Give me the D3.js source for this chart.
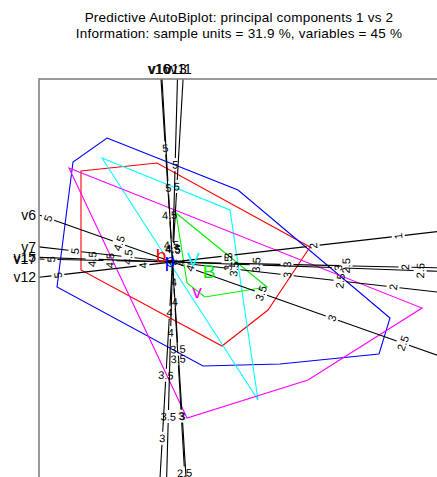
<!DOCTYPE html>
<html>
<head>
<meta charset="utf-8">
<script src="https://cdn.jsdelivr.net/npm/d3@7"></script>
<style>
  body { margin: 0; background: #fff; }
  text { font-family: "Liberation Sans", Arial, sans-serif; }
</style>
</head>
<body>
<svg id="chart" width="437" height="477"></svg>
<script>
// ---- Groups: labels, colours and mean positions on (PC1, PC2) ----
const groupNames  = ["b", "p", "V", "B", "v"];
const groupColors = ["#ff0000", "#0000ff", "#00ffff", "#00ee00", "#ff00ff"];
const groupPC1    = [-0.115, -0.025, 0.205, 0.365, 0.245];
const groupPC2    = [0.06, 0.01, 0.02, -0.10, -0.30];

// ---- Convex hulls of the sample units in each group (PC1, PC2) ----
const hull_b = [[-0.915, 0.91], [-0.155, 0.99], [1.375, 0.15], [0.955, -0.48], [0.495, -0.84], [-0.915, -0.08]];
const hull_p = [[-0.655, 1.24], [0.655, 0.72], [2.175, -0.56], [2.065, -0.92], [1.075, -1.02], [0.305, -1.04], [-1.155, -0.25], [-0.995, 1.00]];
const hull_V = [[-0.705, 1.04], [0.575, 0.52], [0.855, -1.38]];
const hull_B = [[0.035, 0.49], [0.945, -0.25], [0.325, -0.35], [0.145, -0.21]];
const hull_v = [[-1.035, 0.94], [2.495, -0.46], [1.355, -1.18], [0.145, -1.56]];
const hulls  = [hull_b, hull_p, hull_V, hull_B, hull_v];

// ---- Variables: predictive axes ----
const varNames = ["v6", "v7", "v15", "v17", "v12", "v16", "v10", "v13", "v11"];
const varMeans = [4.123, 4.08, 4.01, 3.97, 3.653, 4.15, 4.35, 4.42, 4.40];
const loadPC1  = [-0.6269, -0.9311, -0.609, -0.847, -1.160, -0.0467, -0.0502, 0.0161, 0.0458];
const loadPC2  = [0.2207, 0.1054, 0.0213, 0.0186, -0.133, 0.743, 0.8742, 0.595, 0.792];
const varTicks = [
  [5, 4.5, 4, 3.5, 3, 2.5, 2],
  [5, 4.5, 4, 3.5, 3, 2.5, 2, 1.5],
  [5, 4.5, 4, 3.5, 3, 2.5, 2],
  [5, 4.5, 4, 3.5, 3, 2.5, 2, 1.5],
  [5, 4, 3, 2, 1, 0],
  [5, 4.5, 4, 3.5, 3, 2.5],
  [5, 4.5, 4, 3.5, 3, 2.5, 2],
  [5, 4.5, 4, 3.5, 3],
  [5, 4.5, 4, 3.5, 3, 2.5]
];

const titleLines = [
  "Predictive AutoBiplot: principal components 1 vs 2",
  "Information: sample units = 31.9 %, variables = 45 %"
];

// ---- Layout ----
const svg = d3.select("#chart");
const box = { x0: 39, y0: 79, x1: 440, y1: 480 };
const xScale = d3.scaleLinear().domain([-1.335, 2.675]).range([box.x0, box.x1]);
const yScale = d3.scaleLinear().domain([1.83, -2.18]).range([box.y0, box.y1]);

svg.append("defs").append("clipPath").attr("id", "plotClip")
  .append("rect")
  .attr("x", box.x0).attr("y", box.y0)
  .attr("width", box.x1 - box.x0).attr("height", box.y1 - box.y0);

// Title
svg.selectAll("text.title").data(titleLines).join("text")
  .attr("class", "title")
  .attr("x", 239).attr("y", (d, i) => 22 + i * 16)
  .attr("text-anchor", "middle")
  .style("font-size", "13.5px")
  .attr("letter-spacing", 0.2)
  .attr("fill", "#000")
  .text(d => d);

const plot = svg.append("g").attr("clip-path", "url(#plotClip)");

// Group hulls
const hullLine = d3.line()
  .x(d => xScale(d[0])).y(d => yScale(d[1]))
  .curve(d3.curveLinearClosed);
plot.selectAll("path.hull").data(hulls).join("path")
  .attr("class", "hull")
  .attr("d", hullLine)
  .attr("fill", "none")
  .attr("stroke", (d, i) => groupColors[i])
  .attr("stroke-width", 1.1);

// Predictive axes
const ox = xScale(0), oy = yScale(0);
const gapHalf = 6.5;

varNames.forEach((name, i) => {
  const b1 = loadPC1[i], b2 = loadPC2[i];
  const bb = b1 * b1 + b2 * b2;
  const markerAt = v => {
    const c = (v - varMeans[i]) / bb;
    return [xScale(c * b1), yScale(c * b2)];
  };
  // pixel direction of increasing values
  const p1 = markerAt(varMeans[i] + 1);
  let ux = p1[0] - ox, uy = p1[1] - oy;
  const len = Math.hypot(ux, uy);
  ux /= len; uy /= len;

  // visible range of the line inside the box (t measured in pixels from origin)
  let tMin = -Infinity, tMax = Infinity;
  [[ux, ox, box.x0, box.x1], [uy, oy, box.y0, box.y1]].forEach(([u, o, lo, hi]) => {
    if (Math.abs(u) < 1e-9) return;
    const ta = (lo - o) / u, tb = (hi - o) / u;
    tMin = Math.max(tMin, Math.min(ta, tb));
    tMax = Math.min(tMax, Math.max(ta, tb));
  });

  const ticks = varTicks[i].map(v => {
    const p = markerAt(v);
    return { v, x: p[0], y: p[1], t: (p[0] - ox) * ux + (p[1] - oy) * uy };
  }).filter(d => d.t > tMin + 2 && d.t < tMax - 2);

  // line pieces between tick labels
  const cuts = ticks.map(d => [d.t - gapHalf, d.t + gapHalf]).sort((a, b) => a[0] - b[0]);
  const pieces = [];
  let start = tMin;
  cuts.forEach(([a, c]) => {
    if (a > start) pieces.push([start, a]);
    start = Math.max(start, c);
  });
  if (start < tMax) pieces.push([start, tMax]);

  const g = plot.append("g").attr("class", "axis-" + name);
  g.selectAll("line").data(pieces).join("line")
    .attr("x1", d => ox + ux * d[0]).attr("y1", d => oy + uy * d[0])
    .attr("x2", d => ox + ux * d[1]).attr("y2", d => oy + uy * d[1])
    .attr("stroke", "#000").attr("stroke-width", 1.1);

  let rot = Math.atan2(uy, ux) * 180 / Math.PI + 90;
  while (rot > 180) rot -= 360;
  while (rot <= -180) rot += 360;

  g.selectAll("text").data(ticks).join("text")
    .attr("transform", d => `translate(${d.x},${d.y}) rotate(${rot})`)
    .attr("text-anchor", "middle")
    .attr("dominant-baseline", "central")
    .style("font-size", "11px")
    .attr("fill", "#000")
    .text(d => d3.format("~g")(d.v));

  // variable name at the high-value end of the axis, outside the box
  const ex = ox + ux * tMax, ey = oy + uy * tMax;
  const lab = svg.append("text").style("font-size", "14px").attr("fill", "#000").text(name);
  if (Math.abs(ex - box.x0) < 1) {
    lab.attr("x", ex - 3).attr("y", ey).attr("text-anchor", "end").attr("dominant-baseline", "central");
  } else if (Math.abs(ey - box.y0) < 1) {
    lab.attr("x", ex - 2).attr("y", ey - 5).attr("text-anchor", "middle");
  } else if (Math.abs(ex - box.x1) < 1) {
    lab.attr("x", ex + 3).attr("y", ey).attr("text-anchor", "start").attr("dominant-baseline", "central");
  } else {
    lab.attr("x", ex).attr("y", ey + 14).attr("text-anchor", "middle");
  }
});

// Group labels at the group means, drawn above the axes
svg.append("g").attr("class", "group-labels")
  .selectAll("text").data(groupNames).join("text")
  .attr("x", (d, i) => xScale(groupPC1[i]))
  .attr("y", (d, i) => yScale(groupPC2[i]) + 6)
  .attr("text-anchor", "middle")
  .style("font-size", "19px")
  .attr("fill", (d, i) => groupColors[i])
  .text(d => d);

// Plot frame
svg.append("rect")
  .attr("x", box.x0).attr("y", box.y0)
  .attr("width", box.x1 - box.x0).attr("height", box.y1 - box.y0)
  .attr("fill", "none").attr("stroke", "#808080").attr("stroke-width", 1.6);
</script>
</body>
</html>
